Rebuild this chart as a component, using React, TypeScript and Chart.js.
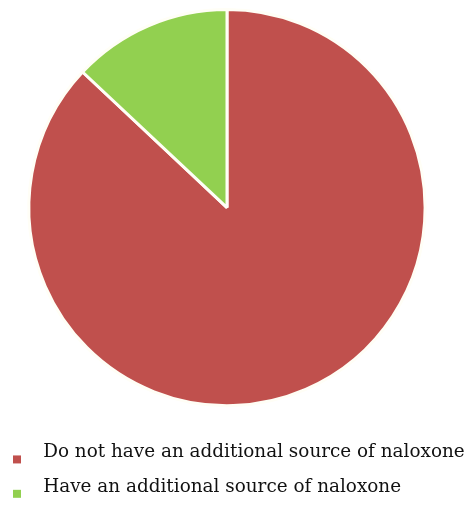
import React, { useEffect, useRef } from "react";
import { Chart, registerables } from "chart.js";

Chart.register(...registerables);

const categories = [
  "Do not have an additional source of naloxone",
  "Have an additional source of naloxone",
];
const values = [87, 13];
const colors = ["#C0504D", "#92D050"];

function makeMarker(color: string): HTMLCanvasElement {
  const c = document.createElement("canvas");
  c.width = 24;
  c.height = 30;
  const g = c.getContext("2d")!;
  g.fillStyle = color;
  g.fillRect(0, 18, 8, 8);
  return c;
}

const widenLegend = {
  id: "widenLegend",
  afterLayout(chart: any) {
    const lg = chart.legend;
    if (lg) {
      lg.right = chart.width;
      lg.width = lg.right - lg.left;
    }
  },
};

export default function App() {
  const ref = useRef<HTMLCanvasElement | null>(null);
  useEffect(() => {
    document.body.style.margin = "0";
    if (!ref.current) return;
    const markers = colors.map(makeMarker);
    const chart = new Chart(ref.current, {
      type: "pie",
      data: {
        labels: categories,
        datasets: [
          {
            data: values,
            backgroundColor: colors,
            borderColor: "#FFFEF6",
            borderWidth: 3,
          },
        ],
      },
      plugins: [widenLegend],
      options: {
        animation: false,
        responsive: false,
        layout: { padding: { top: 8, left: 0, right: 13, bottom: 2 } },
        plugins: {
          tooltip: { enabled: false },
          legend: {
            position: "bottom",
            align: "start",
            title: {
              display: true,
              text: "",
              font: { size: 1, lineHeight: 1 },
              padding: { top: 19, bottom: 0 },
            },
            labels: {
              usePointStyle: true,
              pointStyleWidth: 18,
              boxHeight: 18.4,
              padding: 16,
              color: "#111111",
              font: { family: "DejaVu Serif", size: 18.4 },
              generateLabels: () =>
                categories.map((text, i) => ({
                  text,
                  fillStyle: colors[i],
                  strokeStyle: colors[i],
                  lineWidth: 0,
                  pointStyle: markers[i],
                  hidden: false,
                  index: i,
                  fontColor: "#111111",
                })),
            },
          },
        },
      },
    });
    return () => chart.destroy();
  }, []);
  return <canvas ref={ref} width={467} height={508} style={{ display: "block" }} />;
}
